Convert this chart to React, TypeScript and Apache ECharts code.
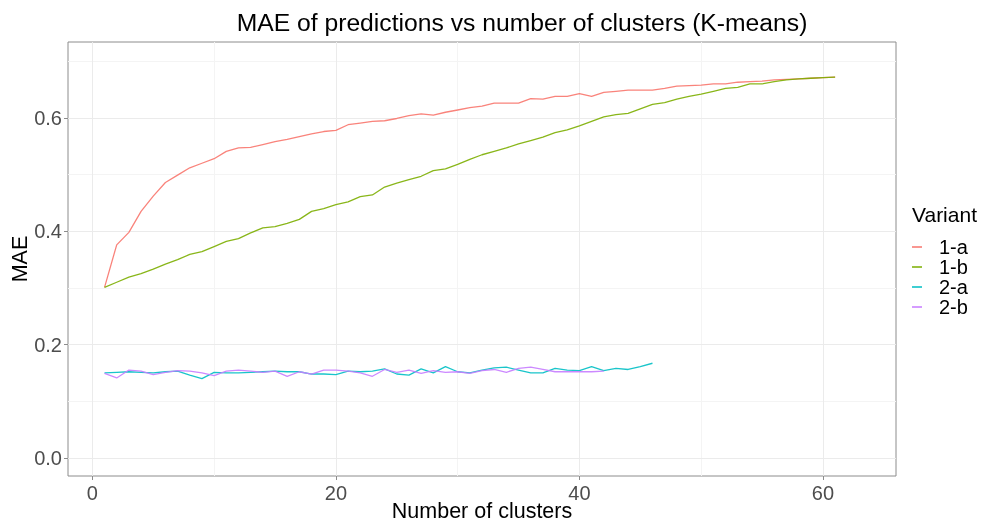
import React, { useEffect, useRef } from "react";
import * as echarts from "echarts";

// MAE per number of clusters (K = 1, 2, 3, ...) for each variant
const variants = ["1-a", "1-b", "2-a", "2-b"];
const colors = ["#F8766D", "#7CAE00", "#00BFC4", "#C77CFF"];

const mae1a = [
  0.301, 0.376, 0.398, 0.435, 0.462, 0.486, 0.499, 0.512, 0.52, 0.528,
  0.541, 0.547, 0.548, 0.553, 0.558, 0.562, 0.567, 0.572, 0.576, 0.578,
  0.588, 0.591, 0.594, 0.595, 0.599, 0.604, 0.607, 0.605, 0.61, 0.614,
  0.618, 0.621, 0.626, 0.626, 0.626, 0.634, 0.633, 0.638, 0.638, 0.643,
  0.638, 0.645, 0.647, 0.649, 0.649, 0.649, 0.652, 0.656, 0.657, 0.658,
  0.66, 0.66, 0.663, 0.664, 0.665, 0.667, 0.668, 0.669, 0.67, 0.671, 0.672,
];
const mae1b = [
  0.301, 0.31, 0.319, 0.325, 0.333, 0.342, 0.35, 0.359, 0.364, 0.373,
  0.382, 0.387, 0.397, 0.406, 0.408, 0.414, 0.421, 0.435, 0.44, 0.447,
  0.452, 0.461, 0.464, 0.478, 0.485, 0.491, 0.497, 0.507, 0.51, 0.518,
  0.527, 0.535, 0.541, 0.547, 0.554, 0.56, 0.566, 0.574, 0.579, 0.586,
  0.594, 0.602, 0.606, 0.608, 0.616, 0.624, 0.627, 0.633, 0.638, 0.642,
  0.647, 0.652, 0.654, 0.66, 0.66, 0.664, 0.667, 0.669, 0.67, 0.671, 0.672,
];
const mae2a = [
  0.15, 0.151, 0.152, 0.151, 0.15, 0.152, 0.153, 0.146, 0.14, 0.151,
  0.15, 0.15, 0.151, 0.152, 0.153, 0.152, 0.152, 0.148, 0.148, 0.147,
  0.153, 0.152, 0.153, 0.157, 0.148, 0.146, 0.157, 0.15, 0.161, 0.152,
  0.15, 0.155, 0.159, 0.16, 0.155, 0.15, 0.15, 0.158, 0.155, 0.154,
  0.161, 0.154, 0.158, 0.156, 0.161, 0.167,
];
const mae2b = [
  0.149, 0.141, 0.155, 0.153, 0.147, 0.151, 0.154, 0.153, 0.15, 0.145,
  0.153, 0.155, 0.153, 0.151, 0.153, 0.144, 0.152, 0.148, 0.155, 0.155,
  0.153, 0.15, 0.144, 0.156, 0.151, 0.155, 0.149, 0.154, 0.151, 0.152,
  0.149, 0.154, 0.156, 0.151, 0.158, 0.16, 0.156, 0.152, 0.152, 0.152,
  0.152, 0.153,
];
const seriesValues = [mae1a, mae1b, mae2a, mae2b];

const xTicks = [0, 20, 40, 60];
const xMinor = [10, 30, 50];
const yTicks = [0, 0.2, 0.4, 0.6];
const yMinor = [0.1, 0.3, 0.5, 0.7];

const FONT = "Liberation Sans, Arial, Helvetica, sans-serif";

// Legend key: a short stroke on the left, with empty room before the label
const KEY_ICON = "path://M0,0L10,0L10,1.3L0,1.3ZM22,0L22,1.3";

export default function App() {
  const ref = useRef<HTMLDivElement>(null);

  useEffect(() => {
    if (!ref.current) return;
    const chart = echarts.init(ref.current, null, { renderer: "svg" });

    const major = { color: "#ebebeb", width: 1, type: "solid" };
    const minor = { color: "#f4f4f4", width: 1, type: "solid" };

    const gridSeries = {
      type: "line",
      name: "grid",
      data: [],
      silent: true,
      z: 1,
      markLine: {
        silent: true,
        z: 1,
        symbol: ["none", "none"],
        label: { show: false },
        emphasis: { disabled: true },
        animation: false,
        data: [
          ...xMinor.map((v) => ({ xAxis: v, lineStyle: minor })),
          ...yMinor.map((v) => ({ yAxis: v, lineStyle: minor })),
          ...xTicks.map((v) => ({ xAxis: v, lineStyle: major })),
          ...yTicks.map((v) => ({ yAxis: v, lineStyle: major })),
        ],
      },
    };

    const dataSeries = variants.map((name, i) => ({
      type: "line",
      name,
      data: seriesValues[i].map((v, k) => [k + 1, v]),
      showSymbol: false,
      symbol: "none",
      z: 3,
      lineStyle: { color: colors[i], width: 1.3, opacity: 0.9 },
      itemStyle: { color: colors[i] },
      emphasis: { disabled: true },
    }));

    chart.setOption({
      animation: false,
      textStyle: { fontFamily: FONT },
      grid: {
        left: 68,
        right: 87,
        top: 42,
        bottom: 46,
        show: true,
        borderColor: "#8c8c8c",
        borderWidth: 1,
        backgroundColor: "#ffffff",
        containLabel: false,
        outerBoundsMode: "none",
      },
      xAxis: {
        type: "value",
        min: -2,
        max: 66,
        name: "Number of clusters",
        nameLocation: "middle",
        nameGap: 28,
        nameMoveOverlap: false,
        nameTextStyle: {
          fontSize: 21.5,
          lineHeight: 14,
          color: "#000",
          fontFamily: FONT,
        },
        axisLine: { show: false, onZero: false },
        axisTick: {
          show: true,
          customValues: xTicks,
          length: 4,
          lineStyle: { color: "#8c8c8c", width: 1 },
        },
        axisLabel: {
          customValues: xTicks,
          fontSize: 20,
          color: "#4d4d4d",
          margin: 7,
          fontFamily: FONT,
        },
        splitLine: { show: false },
      },
      yAxis: {
        type: "value",
        min: -0.032,
        max: 0.734,
        name: "MAE",
        nameLocation: "middle",
        nameGap: 37,
        nameRotate: 90,
        nameMoveOverlap: false,
        nameTextStyle: { fontSize: 21.5, color: "#000", fontFamily: FONT },
        axisLine: { show: false, onZero: false },
        axisTick: {
          show: true,
          customValues: yTicks,
          length: 4,
          lineStyle: { color: "#8c8c8c", width: 1 },
        },
        axisLabel: {
          customValues: yTicks,
          formatter: (v: number) => v.toFixed(1),
          fontSize: 20,
          color: "#4d4d4d",
          margin: 6,
          fontFamily: FONT,
        },
        splitLine: { show: false },
      },
      legend: {
        data: variants.map((name) => ({ name, icon: KEY_ICON })),
        orient: "vertical",
        left: 912,
        top: 237,
        padding: 0,
        itemWidth: 22,
        itemHeight: 1.3,
        itemGap: 0,
        selectedMode: false,
        textStyle: {
          fontSize: 20,
          lineHeight: 19.5,
          color: "#000",
          fontFamily: FONT,
        },
      },
      graphic: [
        {
          type: "text",
          x: 522,
          y: 22,
          style: {
            text: "MAE of predictions vs number of clusters (K-means)",
            fontSize: 24.7,
            fontFamily: FONT,
            fill: "#000",
            align: "center",
            verticalAlign: "middle",
          },
        },
        {
          type: "text",
          x: 912,
          y: 214,
          style: {
            text: "Variant",
            fontSize: 21,
            fontFamily: FONT,
            fill: "#000",
            align: "left",
            verticalAlign: "middle",
          },
        },
      ],
      series: [gridSeries, ...dataSeries],
    });

    return () => chart.dispose();
  }, []);

  return (
    <div
      ref={ref}
      style={{ position: "fixed", left: 0, top: 0, width: 983, height: 522 }}
    />
  );
}
